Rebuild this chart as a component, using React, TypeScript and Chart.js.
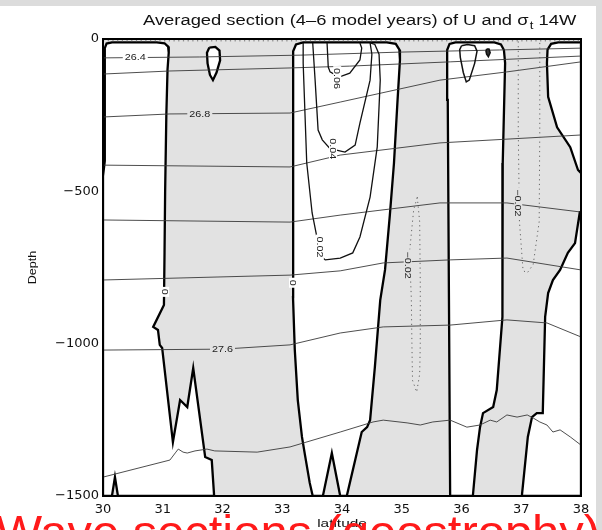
import React, { useEffect, useRef } from 'react';
import { Chart, registerables } from 'chart.js';

Chart.register(...registerables);

type P = [number, number];

const X_TICKS = [30, 31, 32, 33, 34, 35, 36, 37, 38];
const Y_TICKS = [0, -500, -1000, -1500];

// Regions with U > 0 (white), outlined by the thick zero contour
const POS_WEST: P[] = [
  [30, -1500], [30, -450], [30.03, -400], [30.03, -30], [30.06, -15], [30.15, -11], [30.9, -11],
  [31.03, -14], [31.09, -25], [31.1, -45], [31.08, -100], [31.06, -250], [31.04, -500],
  [31.03, -700], [31.02, -873], [30.84, -945], [30.92, -955], [30.95, -1004], [30.99, -1014],
  [31.17, -1323], [31.29, -1185], [31.41, -1208], [31.51, -1080], [31.71, -1372], [31.82, -1382],
  [31.86, -1500], [30.25, -1500], [30.2, -1438], [30.15, -1500], [30, -1500],
];
const POS_LOOP: P[] = [
  [31.78, -28], [31.88, -26], [31.95, -38], [31.96, -70], [31.9, -110], [31.84, -135],
  [31.79, -118], [31.75, -80], [31.74, -45], [31.78, -28],
];
const POS_CENTRE: P[] = [
  [33.51, -1500], [33.46, -1457], [33.38, -1365], [33.33, -1306], [33.26, -1185], [33.21, -1021],
  [33.18, -847], [33.18, -758], [33.18, -400], [33.18, -100], [33.19, -40], [33.23, -18],
  [33.35, -11], [34.75, -11], [34.9, -16], [34.96, -35], [34.97, -69], [34.93, -200],
  [34.87, -407], [34.8, -580], [34.72, -758], [34.64, -857], [34.55, -1077], [34.47, -1251],
  [34.42, -1274], [34.33, -1290], [34.08, -1500], [33.97, -1500], [33.83, -1359], [33.68, -1500],
  [33.51, -1500],
];
const POS_EAST: P[] = [
  [35.81, -1500], [35.79, -857], [35.77, -200], [35.76, -36], [35.8, -16], [35.9, -11],
  [36.55, -11], [36.66, -18], [36.71, -36], [36.73, -79], [36.69, -407], [36.69, -758],
  [36.68, -912], [36.59, -1152], [36.53, -1208], [36.36, -1228], [36.31, -1274], [36.26, -1349],
  [36.19, -1500], [35.81, -1500],
];
const POS_NE: P[] = [
  [38, -11], [37.62, -11], [37.5, -16], [37.44, -35], [37.43, -80], [37.45, -190], [37.6, -290],
  [37.82, -355], [37.95, -430], [38, -440], [38, -11],
];
const POS_SE: P[] = [
  [38, -568], [37.98, -568], [37.9, -670], [37.78, -702], [37.65, -758], [37.53, -791],
  [37.45, -834], [37.4, -912], [37.36, -1228], [37.26, -1228], [37.18, -1241], [37.11, -1306],
  [37.01, -1500], [38, -1500], [38, -568],
];

// small closed U contours
const U_TEAR: P[] = [
  [36.0, -22], [36.1, -18], [36.22, -22], [36.26, -40], [36.22, -80], [36.13, -135], [36.08, -141],
  [36.03, -110], [35.98, -60], [35.97, -35], [36.0, -22],
];
const U_BLOB: P[] = [
  [36.42, -33], [36.46, -33], [36.48, -45], [36.45, -58], [36.42, -50], [36.41, -40], [36.42, -33],
];

// positive U contours in the central jet
const U_002: P[] = [
  [33.35, -13], [33.35, -79], [33.41, -407], [33.5, -571], [33.58, -650], [33.66, -715],
  [33.72, -725], [33.97, -719], [34.18, -702], [34.3, -650], [34.47, -519], [34.59, -354],
  [34.64, -135], [34.62, -50], [34.55, -18], [34.47, -13],
];
const U_004: P[] = [
  [33.51, -13], [33.55, -135], [33.6, -299], [33.67, -331], [33.8, -360], [34.05, -371],
  [34.22, -348], [34.3, -276], [34.47, -135], [34.5, -50], [34.47, -13],
];
const U_006: P[] = [
  [33.75, -13], [33.77, -92], [33.8, -108], [33.95, -125], [34.13, -112], [34.3, -69],
  [34.33, -30], [34.3, -13],
];

// negative U contours (dotted)
const U_NEG_MID: P[] = [
  [35.26, -519], [35.3, -600], [35.31, -800], [35.31, -1000], [35.3, -1100], [35.25, -1159],
  [35.18, -1120], [35.17, -1000], [35.16, -850], [35.13, -700], [35.2, -560], [35.26, -519],
];
const U_NEG_EAST: P[] = [
  [36.95, -8], [36.95, -300], [36.97, -600], [37.03, -760], [37.1, -768], [37.2, -740],
  [37.3, -600], [37.31, -300], [37.31, -8],
];
const U_NEG_TOP: P[] = [[30, -6], [38, -6]];

// sigma_t contours
const SIG_264: P[] = [[30, -62], [31.62, -59], [33.3, -53], [34.97, -43], [36.64, -36], [38, -30]];
const SIG_266: P[] = [[30, -115], [31.12, -105], [33.13, -95], [34.13, -89], [35.81, -75], [38, -56]];
const SIG_268: P[] = [[30, -256], [31.12, -246], [33.13, -243], [33.97, -207], [35.64, -135], [36.76, -108], [38, -75]];
const SIG_270: P[] = [[30, -414], [33.13, -420], [33.97, -381], [35.64, -341], [38, -315]];
const SIG_272: P[] = [[30, -594], [33.13, -601], [33.97, -578], [35.64, -538], [36.76, -538], [38, -568]];
const SIG_274: P[] = [[30, -791], [33.13, -775], [33.97, -761], [34.69, -735], [35.81, -725], [36.76, -719], [38, -758]];
const SIG_276: P[] = [[30, -1021], [32.0, -1018], [33.13, -1004], [33.97, -965], [34.69, -945], [35.81, -939], [36.76, -922], [37.43, -932], [38, -978]];
const SIG_278: P[] = [
  [30, -1438], [31.12, -1382], [31.22, -1356], [31.26, -1346], [31.34, -1356], [31.41, -1359],
  [31.54, -1352], [31.74, -1346], [31.87, -1352], [32.58, -1356], [33.13, -1339], [33.97, -1290],
  [34.52, -1257], [34.69, -1251], [35.09, -1260], [35.31, -1267], [35.52, -1257], [35.81, -1251],
  [36.09, -1274], [36.31, -1267], [36.48, -1251], [36.59, -1257], [36.76, -1234], [36.93, -1241],
  [37.1, -1234], [37.2, -1244], [37.31, -1257], [37.43, -1267], [37.53, -1290], [37.65, -1283],
  [37.82, -1306], [38, -1333],
];

// inline contour labels
const LABEL_TEXT = ['26.4', '26.8', '27.6', '0', '0', '0.02', '0.04', '0.06', '\u22120.02', '\u22120.02'];
const LABEL_LAT = [30.54, 31.62, 32.0, 31.04, 33.18, 33.63, 33.85, 33.92, 35.1, 36.95];
const LABEL_DEPTH = [-59, -245, -1018, -830, -800, -683, -360, -130, -742, -538];
const LABEL_VERTICAL = [false, false, false, true, true, true, true, true, true, true];
const LABEL_ON_WHITE = [true, false, false, true, true, true, true, true, false, false];

const TITLE_MAIN = 'Averaged section (4\u20136 model years) of U and \u03c3';
const TITLE_SUB = 't';
const TITLE_END = ' 14W';
const X_TITLE = 'latitude';
const Y_TITLE = 'Depth';
const OVERLAY = 'Wave sections (geostrophy)';

const GRAY = '#e2e2e2';
const SANS = '"Liberation Sans", Arial, sans-serif';

const pts = (a: P[]) => a.map(([x, y]) => ({ x, y }));

function stretched(ctx: CanvasRenderingContext2D, text: string, x: number, y: number, sx: number, rot: number, align: CanvasTextAlign, base: CanvasTextBaseline) {
  ctx.save();
  ctx.translate(x, y);
  ctx.rotate(rot);
  ctx.scale(sx, 1);
  ctx.textAlign = align;
  ctx.textBaseline = base;
  ctx.fillText(text, 0, 0);
  ctx.restore();
}

const decor = {
  id: 'decor',
  beforeDraw(chart: any) {
    const { ctx, width, height, chartArea: a } = chart;
    ctx.save();
    ctx.fillStyle = '#ffffff';
    ctx.fillRect(0, 0, width, height);
    ctx.fillStyle = '#dcdcdc';
    ctx.fillRect(0, 0, width, 6);
    ctx.fillRect(596, 0, width - 596, height);
    ctx.fillStyle = GRAY;
    ctx.fillRect(a.left, a.top, a.right - a.left, a.bottom - a.top);
    ctx.restore();
  },
  afterDatasetsDraw(chart: any) {
    const { ctx, chartArea: a, scales } = chart;
    const xs = scales.x, ys = scales.y;
    ctx.save();
    ctx.font = '9px ' + SANS;
    for (let i = 0; i < LABEL_TEXT.length; i++) {
      const t = LABEL_TEXT[i];
      const px = xs.getPixelForValue(LABEL_LAT[i]);
      const py = ys.getPixelForValue(LABEL_DEPTH[i]);
      const w = ctx.measureText(t).width * 1.2 + 4;
      const h = 8;
      ctx.save();
      ctx.translate(px, py);
      if (LABEL_VERTICAL[i]) ctx.rotate(Math.PI / 2);
      ctx.fillStyle = LABEL_ON_WHITE[i] ? '#ffffff' : GRAY;
      ctx.fillRect(-w / 2, -h / 2, w, h);
      ctx.fillStyle = '#222';
      ctx.scale(1.2, 1);
      ctx.textAlign = 'center';
      ctx.textBaseline = 'middle';
      ctx.fillText(t, 0, 0.5);
      ctx.restore();
    }
    ctx.strokeStyle = '#000';
    ctx.lineWidth = 2;
    ctx.strokeRect(a.left, a.top, a.right - a.left, a.bottom - a.top);
    ctx.restore();
  },
  afterDraw(chart: any) {
    const { ctx, chartArea: a } = chart;
    ctx.save();
    ctx.fillStyle = '#111';
    // title, stretched to span the plot like the original
    ctx.font = '14px ' + SANS;
    const w1 = ctx.measureText(TITLE_MAIN).width;
    ctx.font = '10px ' + SANS;
    const w2 = ctx.measureText(TITLE_SUB).width;
    ctx.font = '14px ' + SANS;
    const w3 = ctx.measureText(TITLE_END).width;
    const target = 432;
    const sx = target / (w1 + w2 + w3);
    const x0 = 143;
    const by = 25;
    ctx.save();
    ctx.translate(x0, by);
    ctx.scale(sx, 1);
    ctx.textBaseline = 'alphabetic';
    ctx.textAlign = 'left';
    ctx.fillText(TITLE_MAIN, 0, 0);
    ctx.font = '10px ' + SANS;
    ctx.fillText(TITLE_SUB, w1 + 1, 4);
    ctx.font = '14px ' + SANS;
    ctx.fillText(TITLE_END, w1 + w2 + 1, 0);
    ctx.restore();
    // axis titles
    ctx.font = '10px ' + SANS;
    stretched(ctx, Y_TITLE, 33, (a.top + a.bottom) / 2, 1.25, -Math.PI / 2, 'center', 'middle');
    ctx.font = '11px ' + SANS;
    stretched(ctx, X_TITLE, (a.left + a.right) / 2, 524, 1.4, 0, 'center', 'middle');
    // red overlay caption
    ctx.fillStyle = '#ff1a1a';
    ctx.font = '46px ' + SANS;
    const wr = ctx.measureText(OVERLAY).width;
    stretched(ctx, OVERLAY, -4, 548, 604 / wr, 0, 'left', 'alphabetic');
    ctx.restore();
  },
};

export default function App() {
  const ref = useRef<HTMLCanvasElement | null>(null);
  useEffect(() => {
    if (!ref.current) return;
    const polys = [POS_WEST, POS_LOOP, POS_CENTRE, POS_EAST, POS_NE, POS_SE];
    const sig = [SIG_264, SIG_266, SIG_268, SIG_270, SIG_272, SIG_274, SIG_276, SIG_278];
    const datasets: any[] = [];
    for (const p of polys) {
      datasets.push({ data: pts(p), fill: 'shape', backgroundColor: '#ffffff', borderColor: '#000', borderWidth: 2.3, order: 10 });
    }
    for (const s of sig) {
      datasets.push({ data: pts(s), fill: false, borderColor: '#3a3a3a', borderWidth: 0.9, order: 5 });
    }
    for (const u of [U_002, U_004, U_006]) {
      datasets.push({ data: pts(u), fill: false, borderColor: '#111', borderWidth: 1.3, order: 3 });
    }
    datasets.push({ data: pts(U_TEAR), fill: false, borderColor: '#111', borderWidth: 1.5, order: 3 });
    datasets.push({ data: pts(U_BLOB), fill: 'shape', backgroundColor: '#333', borderColor: '#111', borderWidth: 1.5, order: 3 });
    for (const d of [U_NEG_MID, U_NEG_EAST, U_NEG_TOP]) {
      datasets.push({ data: pts(d), fill: false, borderColor: '#666', borderWidth: 1, borderDash: [1.2, 3.5], order: 4 });
    }
    const chart = new Chart(ref.current, {
      type: 'line',
      data: { datasets },
      plugins: [decor],
      options: {
        animation: false,
        responsive: false,
        maintainAspectRatio: false,
        devicePixelRatio: 1,
        layout: { padding: { left: 0, top: 39, right: 21, bottom: 0 } },
        elements: { point: { radius: 0, hoverRadius: 0 }, line: { tension: 0 } },
        plugins: { legend: { display: false }, tooltip: { enabled: false }, title: { display: false } },
        events: [],
        scales: {
          x: {
            type: 'linear',
            min: 30,
            max: 38,
            afterFit: (s: any) => { s.height = 34; },
            afterBuildTicks: (s: any) => { s.ticks = X_TICKS.map((v) => ({ value: v })); },
            grid: { display: false, drawTicks: false },
            border: { display: false },
            ticks: { color: '#111', font: { family: '"DejaVu Sans"', size: 13 }, padding: 6, maxRotation: 0, autoSkip: false },
          },
          y: {
            type: 'linear',
            min: -1500,
            max: 0,
            afterFit: (s: any) => { s.width = 103; },
            afterBuildTicks: (s: any) => { s.ticks = Y_TICKS.map((v) => ({ value: v })); },
            grid: { display: false, drawTicks: false },
            border: { display: false },
            ticks: {
              color: '#111',
              font: { family: '"DejaVu Sans"', size: 13 },
              padding: 4,
              autoSkip: false,
              callback: (v: any) => (Number(v) < 0 ? '\u2212' + String(Math.abs(Number(v))) : String(v)),
            },
          },
        },
      } as any,
    });
    return () => chart.destroy();
  }, []);
  return (
    <div style={{ position: 'absolute', left: 0, top: 0, width: 602, height: 530 }}>
      <canvas ref={ref} width={602} height={530} style={{ display: 'block', width: 602, height: 530 }} />
    </div>
  );
}
